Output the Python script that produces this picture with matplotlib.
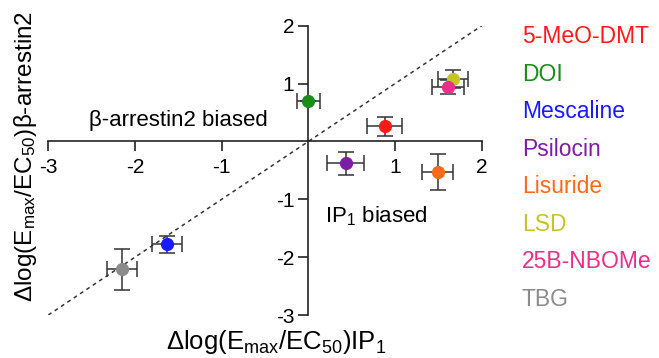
import numpy as np
import matplotlib.pyplot as plt

# compounds and colours
names = ['5-MeO-DMT', 'DOI', 'Mescaline', 'Psilocin', 'Lisuride', 'LSD', '25B-NBOMe', 'TBG']
colors = ['#ff1a1a', '#1a8c1a', '#1a1aff', '#7a1fa2', '#ff6a1a', '#c4c42a', '#e8308a', '#8c8c8c']

# bias values (x = IP1, y = beta-arrestin2) and errors
x = [0.88, 0.0, -1.63, 0.43, 1.49, 1.67, 1.61, -2.15]
y = [0.26, 0.70, -1.78, -0.38, -0.53, 1.08, 0.94, -2.21]
xerr = [0.20, 0.13, 0.17, 0.21, 0.18, 0.17, 0.18, 0.17]
yerr = [0.17, 0.0, 0.15, 0.20, 0.31, 0.15, 0.12, 0.35]

ticks = [-3, -2, -1, 1, 2]

plt.rcParams['font.family'] = 'Liberation Sans'
plt.rcParams['mathtext.fontset'] = 'custom'
plt.rcParams['mathtext.rm'] = 'Liberation Sans'
plt.rcParams['mathtext.it'] = 'Liberation Sans'

fig = plt.figure(figsize=(6.59, 3.58), dpi=100)
ax = fig.add_axes([0.0733, 0.1201, 0.6577, 0.808])

# unity line
ax.plot([-3, 2], [-3, 2], color='#333333', lw=1.1, dashes=(2.5, 2.5))

for i in range(len(names)):
    ax.errorbar(x[i], y[i], xerr=xerr[i], yerr=yerr[i], fmt='none',
                ecolor='#333333', elinewidth=1.1, capsize=6, capthick=1.1, zorder=3)
    ax.plot(x[i], y[i], 'o', color=colors[i], ms=8.5, zorder=4)

ax.set_xlim(-3, 2)
ax.set_ylim(-3, 2)
ax.spines['left'].set_position(('data', 0))
ax.spines['bottom'].set_position(('data', 0))
ax.spines['right'].set_visible(False)
ax.spines['top'].set_visible(False)
for s in ['left', 'bottom']:
    ax.spines[s].set_linewidth(1.2)
    ax.spines[s].set_color('#222222')
ax.set_xticks(ticks)
ax.set_yticks(ticks)
ax.set_xticklabels([str(t) for t in ticks])
ax.set_yticklabels([str(t) for t in ticks])
ax.tick_params(axis='both', labelsize=15, width=1.2, length=7, color='#222222')
ax.tick_params(axis='x', pad=5)
ax.tick_params(axis='y', pad=3)

ax.text(-1.495, 0.27, 'β-arrestin2 biased', fontsize=16, ha='center', va='baseline')
ax.text(0.78, -1.40, r'IP$_1$ biased', fontsize=16, ha='center', va='baseline')

fig.text(0.419, 0.026, r'Δlog(E$_{\rm max}$/EC$_{50}$)IP$_1$', fontsize=18.5,
         ha='center', va='baseline')
fig.text(0.039, 0.562, r'Δlog(E$_{\rm max}$/EC$_{50}$)β-arrestin2', fontsize=17.5,
         ha='center', va='center', rotation=90)

for i in range(len(names)):
    fig.text(0.7917, 0.879 - i * 0.1047, names[i], color=colors[i], fontsize=16.5,
             ha='left', va='baseline')

plt.savefig('out.png', dpi=100)
